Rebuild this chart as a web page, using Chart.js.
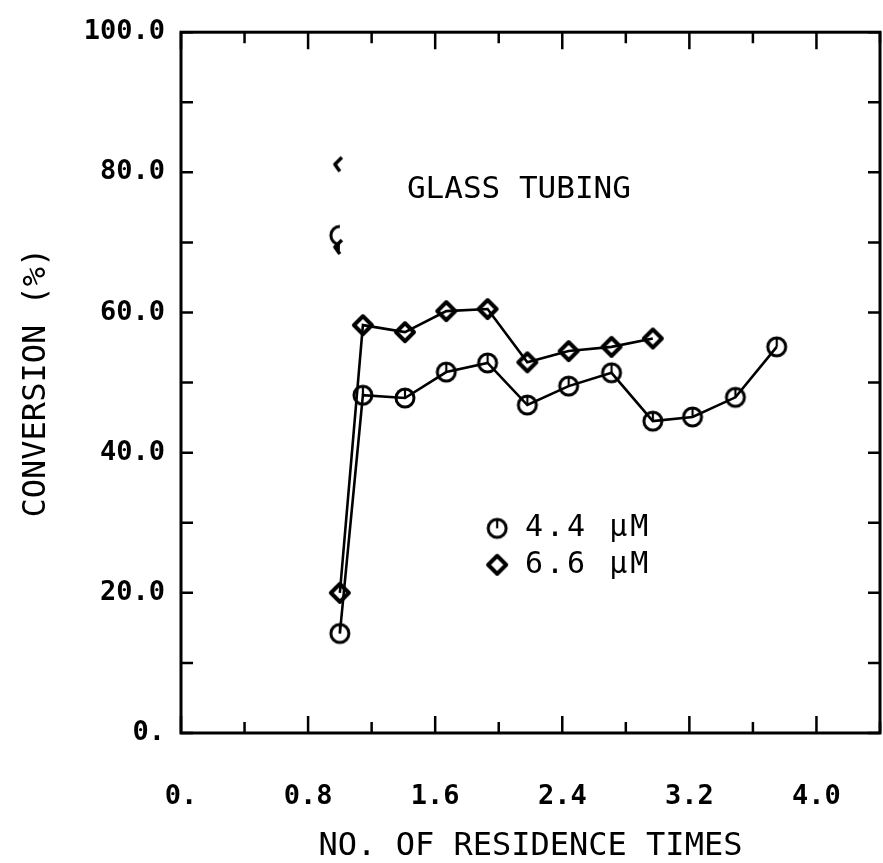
<!DOCTYPE html>
<html><head><meta charset="utf-8">
<script src="https://cdn.jsdelivr.net/npm/chart.js@4.4.1/dist/chart.umd.min.js"></script>
<style>html,body{margin:0;padding:0;background:#fff}#wrap{width:883px;height:863px}</style>
</head><body><div id="wrap"><canvas id="c" width="883" height="863"></canvas></div>
<script>
// ---- data ----
const residenceTimes44 = [1.00, 1.145, 1.41, 1.67, 1.93, 2.18, 2.44, 2.71, 2.97, 3.22, 3.49, 3.75];
const conversion44     = [14.2, 48.2, 47.8, 51.5, 52.8, 46.8, 49.5, 51.4, 44.5, 45.1, 47.9, 55.1];
const residenceTimes66 = [1.00, 1.145, 1.41, 1.67, 1.93, 2.18, 2.44, 2.71, 2.97];
const conversion66     = [20.0, 58.2, 57.2, 60.2, 60.5, 52.9, 54.5, 55.1, 56.3];
const strayX = [1.0, 1.0, 1.0];
const strayY = [81.0, 71.0, 69.2];
const xTickLabels = ['0.', '0.8', '1.6', '2.4', '3.2', '4.0'];
const yTickLabels = ['0.', '20.0', '40.0', '60.0', '80.0', '100.0'];
const seriesNames = ['4.4 μM', '6.6 μM'];
const annotationText = 'GLASS TUBING';
const xTitle = 'NO. OF RESIDENCE TIMES';
const yTitle = 'CONVERSION (%)';

const FONT = "'DejaVu Sans Mono', 'Liberation Mono', monospace";

// ---- marker glyphs ----
function circleMarker(){
  const c=document.createElement('canvas'); c.width=26; c.height=26;
  const g=c.getContext('2d'); g.strokeStyle='#000'; g.lineWidth=3;
  g.beginPath(); g.arc(13,13,9,0,Math.PI*2); g.stroke();
  g.lineWidth=2.2; g.beginPath(); g.moveTo(13,5); g.lineTo(13,13); g.stroke();
  return c;
}
function diamondMarker(){
  const c=document.createElement('canvas'); c.width=26; c.height=26;
  const g=c.getContext('2d'); g.strokeStyle='#000'; g.lineWidth=4; g.lineJoin='round';
  g.beginPath(); g.moveTo(13,4); g.lineTo(22,13); g.lineTo(13,22); g.lineTo(4,13); g.closePath(); g.stroke();
  return c;
}
function halfCircle(){
  const c=document.createElement('canvas'); c.width=26; c.height=26;
  const g=c.getContext('2d'); g.strokeStyle='#000'; g.lineWidth=3;
  g.beginPath(); g.arc(13,13,9,Math.PI*0.5,Math.PI*1.5); g.stroke();
  return c;
}
function halfDiamond(filled){
  const c=document.createElement('canvas'); c.width=26; c.height=26;
  const g=c.getContext('2d'); g.strokeStyle='#000'; g.fillStyle='#000'; g.lineWidth=3.5; g.lineJoin='round';
  g.beginPath(); g.moveTo(15,5); g.lineTo(8,12); g.lineTo(13,19); g.stroke();
  if(filled){ g.beginPath(); g.moveTo(13,7); g.lineTo(8,12); g.lineTo(13,17); g.closePath(); g.fill(); }
  return c;
}
const mCircle = circleMarker(), mDiamond = diamondMarker();

const legendAnchor = {x: 1.99, y1: 29.2, y2: 24.0, textX: 2.165};
const annotAnchor = {x: 2.127, y: 77.5};

const framePlugin = {
  id: 'frameTicks',
  afterDatasetsDraw(chart){
    const {ctx, chartArea: a, scales: {x, y}} = chart;
    ctx.save();
    ctx.strokeStyle = '#000';
    ctx.lineWidth = 3; ctx.lineJoin = 'miter';
    ctx.strokeRect(a.left, a.top, a.right - a.left, a.bottom - a.top);
    ctx.lineWidth = 2.5;
    x.ticks.forEach((t, i) => {
      const px = x.getPixelForValue(t.value);
      const len = i % 2 === 0 ? 17 : 11;
      ctx.beginPath();
      ctx.moveTo(px, a.bottom); ctx.lineTo(px, a.bottom - len);
      ctx.moveTo(px, a.top); ctx.lineTo(px, a.top + len);
      ctx.stroke();
    });
    y.ticks.forEach(t => {
      const py = y.getPixelForValue(t.value);
      ctx.beginPath();
      ctx.moveTo(a.left, py); ctx.lineTo(a.left + 12, py);
      ctx.moveTo(a.right, py); ctx.lineTo(a.right - 12, py);
      ctx.stroke();
    });
    // annotation
    ctx.fillStyle = '#000';
    ctx.font = "31px " + FONT;
    ctx.textAlign = 'center'; ctx.textBaseline = 'middle';
    ctx.fillText(annotationText, x.getPixelForValue(annotAnchor.x), y.getPixelForValue(annotAnchor.y));
    // legend
    const lx = x.getPixelForValue(legendAnchor.x);
    const tx = x.getPixelForValue(legendAnchor.textX);
    const ly1 = y.getPixelForValue(legendAnchor.y1), ly2 = y.getPixelForValue(legendAnchor.y2);
    ctx.drawImage(mCircle, lx - 13, ly1 - 13);
    ctx.drawImage(mDiamond, lx - 13, ly2 - 13);
    ctx.font = "30px " + FONT;
    ctx.textAlign = 'left';
    try { ctx.letterSpacing = '3px'; } catch(e) {}
    ctx.fillText(seriesNames[0], tx, ly1);
    ctx.fillText(seriesNames[1], tx, ly2);
    ctx.restore();
  }
};

new Chart(document.getElementById('c'), {
  type: 'scatter',
  data: {
    datasets: [
      {
        label: seriesNames[0],
        data: residenceTimes44.map((v, i) => ({x: v, y: conversion44[i]})),
        showLine: true, borderColor: '#000', borderWidth: 2.6, tension: 0,
        pointStyle: mCircle, pointRadius: 10, pointHoverRadius: 10
      },
      {
        label: seriesNames[1],
        data: residenceTimes66.map((v, i) => ({x: v, y: conversion66[i]})),
        showLine: true, borderColor: '#000', borderWidth: 2.6, tension: 0,
        pointStyle: mDiamond, pointRadius: 10, pointHoverRadius: 10
      },
      {
        label: 'stray',
        data: strayX.map((v, i) => ({x: v, y: strayY[i]})),
        showLine: false,
        pointStyle: [halfDiamond(false), halfCircle(), halfDiamond(true)],
        pointRadius: 10
      }
    ]
  },
  options: {
    responsive: false,
    animation: false,
    devicePixelRatio: 1,
    layout: {autoPadding: false, padding: {top: 32, right: 3, left: 0, bottom: 0}},
    plugins: {legend: {display: false}, tooltip: {enabled: false}},
    scales: {
      x: {
        type: 'linear', min: 0, max: 4.4,
        grid: {display: false, drawTicks: true, tickLength: 48},
        border: {display: false},
        ticks: {
          stepSize: 0.4, autoSkip: false, maxRotation: 0, padding: 0,
          color: '#000', font: {family: FONT, size: 27, weight: 'bold'},
          callback: (v, i) => (i % 2 === 0 ? (xTickLabels[i / 2] ?? '') : '')
        },
        title: {display: true, text: xTitle, color: '#000',
          font: {family: FONT, size: 32, lineHeight: 1}, padding: {top: -2, bottom: 0}},
        afterFit: s => { s.height = 130; s.paddingLeft = 0; s.paddingRight = 0; }
      },
      y: {
        type: 'linear', min: 0, max: 100,
        grid: {display: false, drawTicks: false},
        border: {display: false},
        ticks: {
          stepSize: 10, autoSkip: false, padding: 16,
          color: '#000', font: {family: FONT, size: 27, weight: 'bold'},
          callback: (v, i) => (i % 2 === 0 ? (yTickLabels[i / 2] ?? '') : '')
        },
        title: {display: true, text: yTitle, color: '#000',
          font: {family: FONT, size: 32, lineHeight: 1}, padding: {top: 21, bottom: 0}},
        afterFit: s => { s.width = 181; }
      }
    }
  },
  plugins: [framePlugin]
});
</script></body></html>
